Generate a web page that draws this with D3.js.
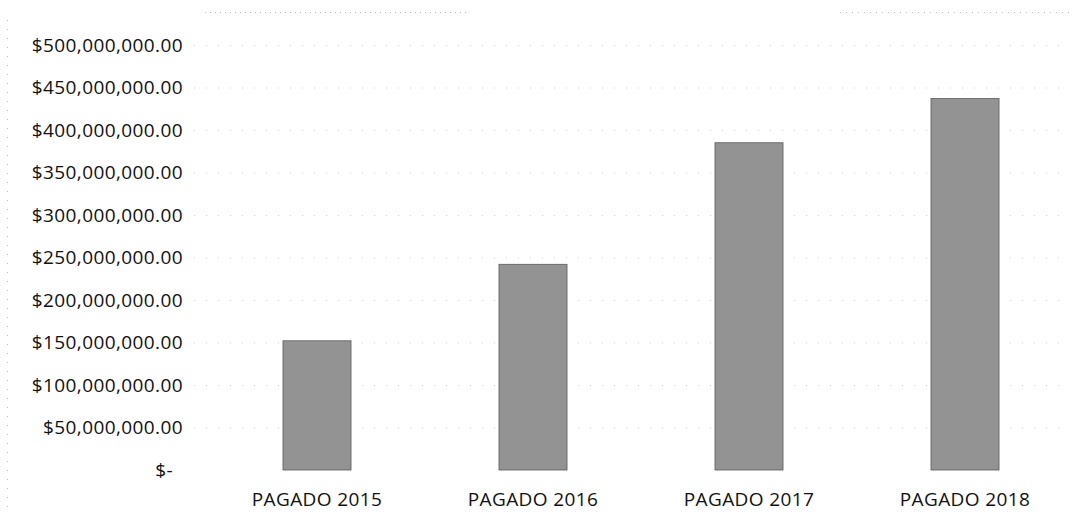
<!DOCTYPE html>
<html>
<head>
<meta charset="utf-8">
<script src="https://cdn.jsdelivr.net/npm/d3@7"></script>
<style>
  body { margin: 0; background: #fff; }
  text { font-family: "Open Sans", "Noto Sans", sans-serif; fill: #111; }
</style>
</head>
<body>
<div id="chart"></div>
<script>
// data
const categories = ["PAGADO 2015", "PAGADO 2016", "PAGADO 2017", "PAGADO 2018"];
const values = [152000000, 242000000, 385000000, 437000000];
const tickValues = [0, 50000000, 100000000, 150000000, 200000000, 250000000,
    300000000, 350000000, 400000000, 450000000, 500000000];

const complete_width = 1087,
    complete_height = 523;
const margin = { top: 45, right: 14, bottom: 53, left: 209 };

const svg = d3.select("#chart")
    .append("svg")
    .attr("width", complete_width)
    .attr("height", complete_height);

//x scaling
const x = d3.scaleBand()
    .domain(categories)
    .range([margin.left, complete_width - margin.right])
    .paddingInner(0.685)
    .paddingOuter(0.3425);

//y scaling
const y = d3.scaleLinear()
    .domain([0, 500000000])
    .range([complete_height - margin.bottom, margin.top]);

const money = d3.format(",.2f");

// faint dotted gridlines, like the scan
svg.append("g")
    .selectAll("line")
    .data(tickValues.filter(d => d > 0))
    .join("line")
    .attr("x1", margin.left - 15)
    .attr("x2", complete_width - 20)
    .attr("y1", d => y(d) + 0.5)
    .attr("y2", d => y(d) + 0.5)
    .attr("stroke", "#cdcdcd")
    .attr("stroke-width", 1)
    .attr("stroke-dasharray", "1,11");

// top border of the scanned frame
svg.append("line")
    .attr("x1", 205).attr("x2", 470)
    .attr("y1", 12.5).attr("y2", 12.5)
    .attr("stroke", "#bbb")
    .attr("stroke-dasharray", "1,4");
svg.append("line")
    .attr("x1", 840).attr("x2", 1070)
    .attr("y1", 12.5).attr("y2", 12.5)
    .attr("stroke", "#bbb")
    .attr("stroke-dasharray", "1,5");
// left border of the scanned frame
svg.append("line")
    .attr("x1", 7.5).attr("x2", 7.5)
    .attr("y1", 20).attr("y2", 515)
    .attr("stroke", "#bbb")
    .attr("stroke-dasharray", "1,8");

// y tick labels
svg.append("g")
    .selectAll("text")
    .data(tickValues)
    .join("text")
    .attr("x", d => d === 0 ? 173 : 183)
    .attr("y", d => y(d))
    .attr("dy", "0.35em")
    .attr("text-anchor", "end")
    .style("font-size", "19px")
    .style("letter-spacing", "0.4px")
    .text(d => d === 0 ? "$-" : "$" + money(d));

// bars
svg.append("g")
    .selectAll("rect")
    .data(values)
    .join("rect")
    .attr("x", (d, i) => x(categories[i]))
    .attr("y", d => y(d))
    .attr("width", x.bandwidth())
    .attr("height", d => y(0) - y(d))
    .attr("fill", "#939393")
    .attr("stroke", "#5a5a5a")
    .attr("stroke-width", 0.8);

// category labels
svg.append("g")
    .selectAll("text")
    .data(categories)
    .join("text")
    .attr("x", d => x(d) + x.bandwidth() / 2)
    .attr("y", complete_height - margin.bottom + 29)
    .attr("dy", "0.35em")
    .attr("text-anchor", "middle")
    .style("font-size", "19px")
    .style("letter-spacing", "0.4px")
    .text(d => d);
</script>
</body>
</html>
